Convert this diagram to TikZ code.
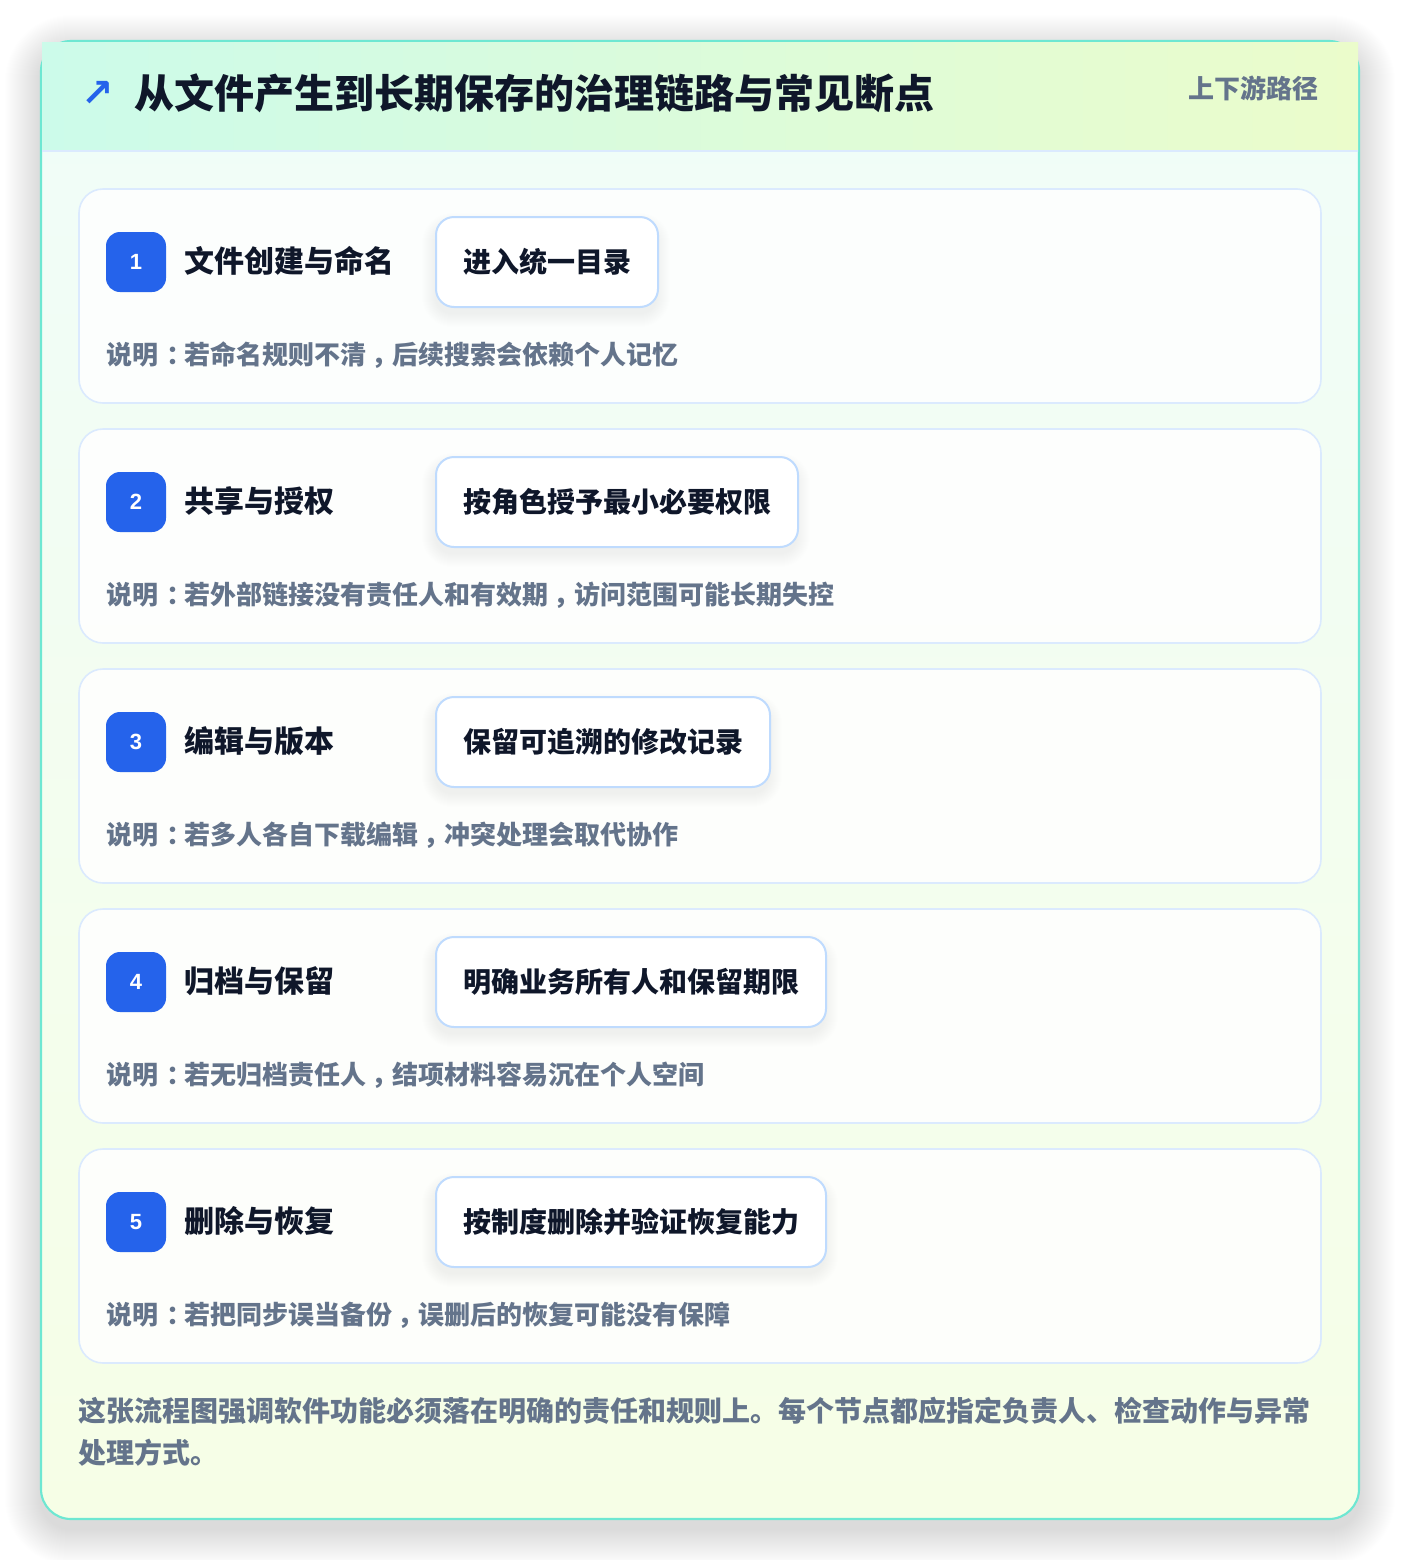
\documentclass[tikz,border=0pt]{standalone}
\usepackage{fontspec}
\setmainfont{Noto Sans CJK SC}
\newfontfamily\arrowfont{DejaVu Sans}
\newfontfamily\numfont{Liberation Sans}
\definecolor{ink}{HTML}{0F172A}
\definecolor{muted}{HTML}{64748B}
\definecolor{brand}{HTML}{2563EB}
\definecolor{teal}{HTML}{6EE7D2}
\definecolor{cardline}{HTML}{DBEAFE}
\definecolor{boxline}{HTML}{BFDBFE}
\definecolor{hdrL}{HTML}{CCFBEA}
\definecolor{hdrR}{HTML}{EBFCCB}
\definecolor{bodyT}{HTML}{F0FDF9}
\definecolor{bodyB}{HTML}{F6FEE6}
% centred full-width punctuation
\newcommand\ctrp[2]{\makebox[1em][l]{\hspace{#1}\makebox[0pt][l]{#2}}}
\newcommand\zcolon{\ctrp{0.32em}{：}}
\newcommand\zcomma{\ctrp{0.2em}{，}}
% soft stacked shadow: x1,y1,x2,y2 (px), radius (px), layers, dy (px), opacity/layer
\newcommand\softshadow[8]{%
  \foreach \k in {1,...,#6}{%
    \fill[black, opacity=#8, rounded corners=(#5+\k)*0.75pt]
      (#1-\k,#2-\k+#7) rectangle (#3+\k,#4+\k+#7);
  }}
\tikzset{
  badge/.style={fill=brand, rounded corners=10.5pt, minimum width=45pt, minimum height=45pt, inner sep=0pt, text=white, font=\numfont\bfseries\fontsize{16.5pt}{18pt}\selectfont},
  steptitle/.style={anchor=west, inner sep=0pt, text=ink, font=\bfseries\fontsize{22.5pt}{26pt}\selectfont},
  actionbox/.style={anchor=west, draw=boxline, line width=1.5pt, fill=white, rounded corners=13.5pt, minimum height=67.5pt, inner xsep=20.25pt, inner ysep=0pt, text=ink, font=\bfseries\fontsize{21pt}{24pt}\selectfont},
  desc/.style={anchor=west, inner sep=0pt, text=muted, font=\bfseries\fontsize{19.5pt}{22pt}\selectfont},
  stepcard/.style={draw=cardline, line width=1.2pt, fill=white, fill opacity=0.85, rounded corners=18pt},
}
\begin{document}
\begin{tikzpicture}[x=0.75pt, y=-0.75pt]
\useasboundingbox (0,0) rectangle (1400,1560);
\fill[white] (0,0) rectangle (1400,1560);
% outer card shadow
\softshadow{41}{41}{1359}{1519}{30}{36}{10}{0.0024}
% outer card body
\shade[top color=bodyT, bottom color=bodyB, rounded corners=22.5pt] (41,41) rectangle (1359,1519);
\draw[teal, line width=1.6pt, rounded corners=22.5pt] (41,41) rectangle (1359,1519);
% header band
\shade[left color=hdrL, right color=hdrR] (42,42.2) rectangle (1358,151);
\draw[cardline, line width=1.2pt] (42,151) -- (1358,151);
\node[text=brand, font=\arrowfont\bfseries\fontsize{29pt}{31pt}\selectfont, inner sep=0pt] (arrow) at (98,94) {↗};
\node[anchor=west, inner sep=0pt, text=ink, font=\bfseries\fontsize{30pt}{34pt}\selectfont] (title) at (134,93) {从文件产生到长期保存的治理链路与常见断点};
\node[anchor=east, inner sep=0pt, text=muted, font=\bfseries\fontsize{19.5pt}{22pt}\selectfont] (sub) at (1319,88) {上下游路径};
% steps
\foreach \i/\top/\ttl/\act/\w/\dsc in {
  1/189/文件创建与命名/进入统一目录/222/{说明\zcolon 若命名规则不清\zcomma 后续搜索会依赖个人记忆},
  2/429/共享与授权/按角色授予最小必要权限/362/{说明\zcolon 若外部链接没有责任人和有效期\zcomma 访问范围可能长期失控},
  3/669/编辑与版本/保留可追溯的修改记录/334/{说明\zcolon 若多人各自下载编辑\zcomma 冲突处理会取代协作},
  4/909/归档与保留/明确业务所有人和保留期限/390/{说明\zcolon 若无归档责任人\zcomma 结项材料容易沉在个人空间},
  5/1149/删除与恢复/按制度删除并验证恢复能力/390/{说明\zcolon 若把同步误当备份\zcomma 误删后的恢复可能没有保障}}{
  \path[stepcard] (79,\top) rectangle (1321,\top+214);
  \softshadow{436}{\top+30}{434+\w}{\top+116}{16}{14}{8}{0.004}
  \node[badge] (badge\i) at (136,\top+73) {\i};
  \node[steptitle] (title\i) at (184,\top+72) {\ttl};
  \node[actionbox] (act\i) at (435,\top+73) {\act};
  \node[desc] (desc\i) at (106,\top+166) {\dsc};
}
\node[anchor=west, align=left, inner sep=0pt, text=muted, font=\bfseries\fontsize{21pt}{31.5pt}\selectfont] (footer) at (78,1432) {这张流程图强调软件功能必须落在明确的责任和规则上。每个节点都应指定负责人、检查动作与异常\\处理方式。};
\end{tikzpicture}
\end{document}
